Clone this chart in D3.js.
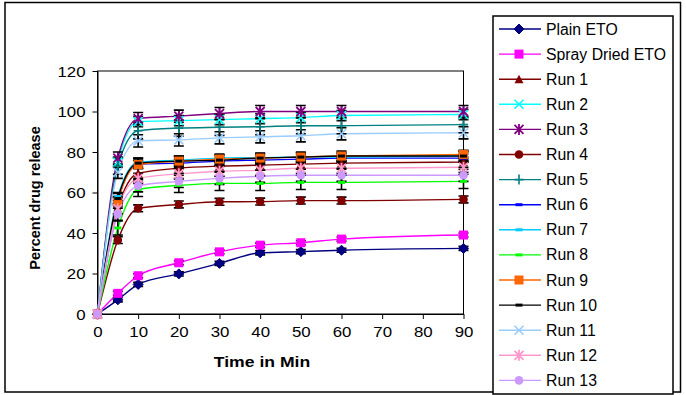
<!DOCTYPE html>
<html><head><meta charset="utf-8">
<script src="https://cdn.jsdelivr.net/npm/d3@7"></script>
<style>body{margin:0;background:#fff}svg{display:block}</style>
</head><body>
<svg id="c" width="686" height="395"></svg>
<script>
const times = [0, 5, 10, 20, 30, 40, 50, 60, 90];
const xTicks = [0, 10, 20, 30, 40, 50, 60, 70, 80, 90];
const yTicks = [0, 20, 40, 60, 80, 100, 120];
const seriesNames = ["Plain ETO","Spray Dried ETO","Run 1","Run 2","Run 3","Run 4","Run 5","Run 6","Run 7","Run 8","Run 9","Run 10","Run 11","Run 12","Run 13"];
const plainETO      = [0, 7.0, 14.6, 19.8, 25.0, 30.2, 30.8, 31.5, 32.4];
const sprayDriedETO = [0, 10.2, 18.9, 25.3, 30.7, 34.0, 35.2, 37.0, 39.0];
const run1  = [0, 52.0, 69.5, 72.0, 73.0, 73.5, 74.0, 74.5, 75.0];
const run2  = [0, 75.0, 95.0, 95.5, 96.0, 96.5, 97.0, 98.0, 98.5];
const run3  = [0, 77.0, 96.5, 97.7, 99.0, 100, 100, 100, 100];
const run4  = [0, 36.5, 52.2, 54.1, 55.4, 55.5, 56.0, 56.0, 56.6];
const run5  = [0, 73.0, 90.5, 91.8, 92.2, 92.5, 93.0, 93.0, 93.5];
const run6  = [0, 56.0, 74.0, 74.5, 75.5, 76.0, 76.5, 77.0, 77.0];
const run7  = [0, 58.0, 75.0, 76.0, 77.0, 77.2, 77.5, 77.5, 78.0];
const run8  = [0, 42.5, 61.5, 63.5, 64.5, 64.5, 65.0, 65.0, 65.5];
const run9  = [0, 55.4, 73.8, 75.5, 76.5, 77.0, 77.5, 78.0, 78.8];
const run10 = [0, 57.0, 74.5, 75.5, 76.0, 77.0, 77.5, 78.0, 78.0];
const run11 = [0, 70.0, 85.5, 86.0, 87.0, 87.5, 88.0, 89.0, 89.5];
const run12 = [0, 52.0, 67.0, 69.2, 70.5, 71.0, 72.0, 72.0, 72.5];
const run13 = [0, 49.3, 63.3, 65.5, 67.0, 68.0, 68.5, 68.5, 68.5];
const errorSizes = [1, 1, 2.5, 2.5, 3, 1.7, 4, 2, 2, 3.5, 2, 2.5, 3, 2.5, 3];

const values = [plainETO, sprayDriedETO, run1, run2, run3, run4, run5, run6, run7, run8, run9, run10, run11, run12, run13];
const colors = ["#000080","#FF00FF","#800000","#00FFFF","#800080","#800000","#008080","#0000FF","#00CCFF","#00FF00","#FF6600","#000000","#99CCFF","#FF99CC","#CC99FF"];
const markers = ["diamond","square","triangle","x","star","circle","plus","dash","dash","dash","square","dash","x","star","circle"];

const svg = d3.select("#c");
const font = "'Liberation Sans', Arial, sans-serif";

// outer frame
svg.append("rect").attr("x",5).attr("y",2.5).attr("width",675.5).attr("height",389.5)
  .attr("fill","none").attr("stroke","#000").attr("stroke-width",1.5);

const L = 97.5, R = 463.5, T = 71, B = 314;
const x = d3.scaleLinear().domain([0, 90]).range([L, R]);
const y = d3.scaleLinear().domain([0, 120]).range([B, T]);

function stretch(sel, f){
  sel.each(function(){
    const w = this.getComputedTextLength();
    d3.select(this).attr("textLength", w*f).attr("lengthAdjust","spacingAndGlyphs");
  });
}

// plot box
svg.append("rect").attr("x",L).attr("y",T).attr("width",R-L).attr("height",B-T)
  .attr("fill","none").attr("stroke","#000").attr("stroke-width",1);

const gx = svg.append("g").attr("transform",`translate(0,${B})`)
  .call(d3.axisBottom(x).tickValues(xTicks).tickSize(5).tickSizeOuter(0).tickPadding(8));
const gy = svg.append("g").attr("transform",`translate(${L},0)`)
  .call(d3.axisLeft(y).tickValues(yTicks).tickSize(5).tickSizeOuter(0).tickPadding(8));
[gx, gy].forEach(g=>{
  g.select(".domain").attr("stroke","#000");
  g.selectAll(".tick line").attr("stroke","#000");
  g.selectAll(".tick text").attr("fill","#000").attr("font-family",font).attr("font-size",14.5);
});
gx.selectAll(".tick text").attr("dy","0.71em").attr("y",13);
gy.selectAll(".tick text").attr("x",-12).attr("dy","0.36em");
stretch(gx.selectAll(".tick text"), 1.16);
stretch(gy.selectAll(".tick text"), 1.16);

// titles
const xt = svg.append("text").attr("x",262).attr("y",367).attr("text-anchor","middle")
  .attr("font-family",font).attr("font-weight","bold").attr("font-size",14.3).text("Time in Min");
stretch(xt, 1.23);
svg.append("text").attr("transform","translate(40,198) rotate(-90)").attr("text-anchor","middle")
  .attr("font-family",font).attr("font-weight","bold").attr("font-size",14.5).text("Percent drug release");

function drawMarker(g, type, color){
  switch(type){
    case "diamond": g.append("path").attr("d","M0,-5L5,0L0,5L-5,0Z").attr("fill",color).attr("stroke",color); break;
    case "square": g.append("rect").attr("x",-4.5).attr("y",-4.5).attr("width",9).attr("height",9).attr("fill",color); break;
    case "triangle": g.append("path").attr("d","M0,-4.5L4.5,4L-4.5,4Z").attr("fill",color); break;
    case "circle": g.append("circle").attr("r",4.3).attr("fill",color); break;
    case "x": g.append("path").attr("d","M-4.5,-4.5L4.5,4.5M-4.5,4.5L4.5,-4.5").attr("stroke",color).attr("stroke-width",1.6).attr("fill","none"); break;
    case "star": g.append("path").attr("d","M-4.5,-4.5L4.5,4.5M-4.5,4.5L4.5,-4.5M0,-5.5L0,5.5").attr("stroke",color).attr("stroke-width",1.8).attr("fill","none"); break;
    case "plus": g.append("path").attr("d","M-4.5,0L4.5,0M0,-5L0,5").attr("stroke",color).attr("stroke-width",1.6).attr("fill","none"); break;
    case "dash": g.append("rect").attr("x",-3.5).attr("y",-1.5).attr("width",7).attr("height",3).attr("fill",color); break;
  }
}

const line = d3.line().x((d,i)=>x(times[i])).y(d=>y(d)).curve(d3.curveMonotoneX);
const plot = svg.append("g");
values.forEach((vals, s)=>{
  plot.append("path").attr("d", line(vals)).attr("fill","none").attr("stroke",colors[s]).attr("stroke-width",1.4);
});
values.forEach((vals, s)=>{
  const e = errorSizes[s];
  vals.forEach((v,i)=>{
    if (i===0) return;
    const cx = x(times[i]);
    plot.append("path")
      .attr("d",`M${cx},${y(v+e)}L${cx},${y(v-e)}M${cx-5},${y(v+e)}L${cx+5},${y(v+e)}M${cx-5},${y(v-e)}L${cx+5},${y(v-e)}`)
      .attr("stroke","#000").attr("stroke-width",1.6).attr("fill","none");
  });
});
values.forEach((vals, s)=>{
  vals.forEach((v,i)=>{
    const g = plot.append("g").attr("transform",`translate(${x(times[i])},${y(v)})`);
    drawMarker(g, markers[s], colors[s]);
  });
});

// legend
svg.append("rect").attr("x",493).attr("y",16).attr("width",180).attr("height",378)
  .attr("fill","#fff").attr("stroke","#000").attr("stroke-width",1.5);
seriesNames.forEach((name, s)=>{
  const cy = 29 + s*25.1;
  svg.append("line").attr("x1",499).attr("x2",541).attr("y1",cy).attr("y2",cy).attr("stroke",colors[s]).attr("stroke-width",1.4);
  const g = svg.append("g").attr("transform",`translate(519,${cy})`);
  drawMarker(g, markers[s], colors[s]);
  svg.append("text").attr("x",546).attr("y",cy+5.5).attr("font-family",font).attr("font-size",15.8).attr("fill","#000").text(name);
});
</script>
</body></html>
